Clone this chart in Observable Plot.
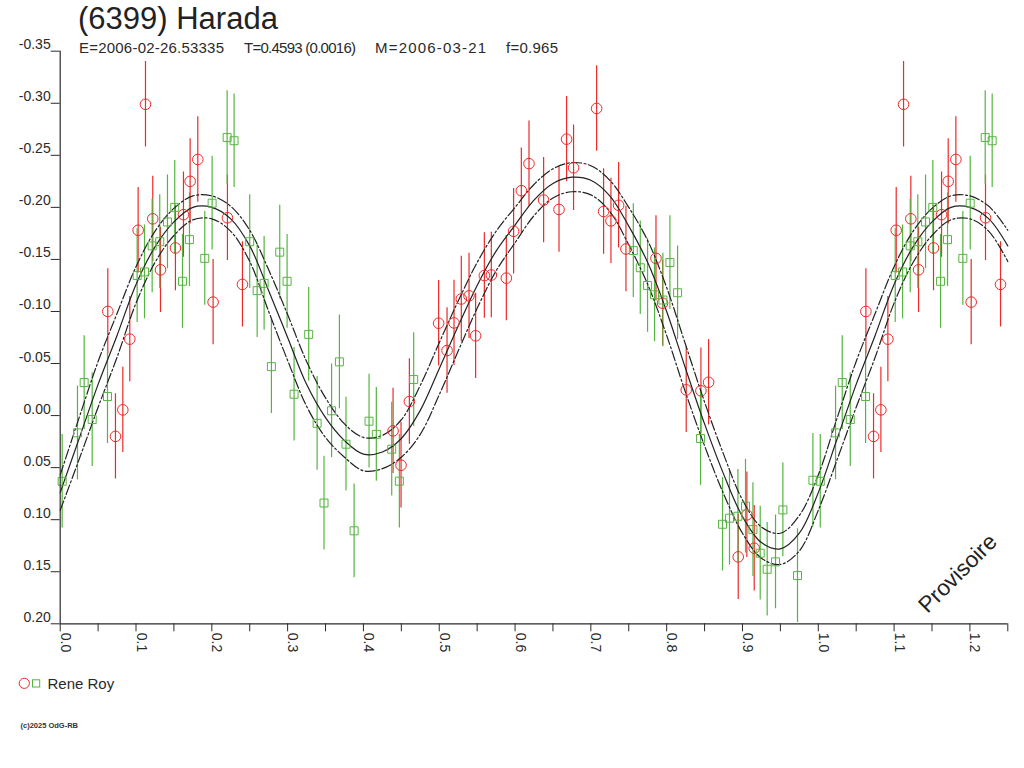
<!DOCTYPE html>
<html><head><meta charset="utf-8">
<script src="https://cdn.jsdelivr.net/npm/d3@7"></script>
<script src="https://cdn.jsdelivr.net/npm/@observablehq/plot@0.6"></script>
<style>
body{margin:0;background:#fff;}
#wrap{position:relative;width:1024px;height:768px;overflow:hidden;background:#fff}
#wrap svg{position:absolute;left:0;top:0}
</style></head><body><div id="wrap"></div>
<script>
// ---------- texts ----------
const titleText = "(6399) Harada";
const subtitleParts = ["E=2006-02-26.53335", "T=0.4593 (0.0016)", "M=2006-03-21", "f=0.965"];
const legendLabel = "Rene Roy";
const copyrightText = "(c)2025 OdG-RB";
const watermark = "Provisoire";

// ---------- axes ----------
const xDomain = [0, 1.25];
const yDomain = [0.20, -0.35];
const xTicks = [0,0.05,0.1,0.15,0.2,0.25,0.3,0.35,0.4,0.45,0.5,0.55,0.6,0.65,0.7,0.75,0.8,0.85,0.9,0.95,1.0,1.05,1.1,1.15,1.2,1.25];
const xLabels = [0,0.1,0.2,0.3,0.4,0.5,0.6,0.7,0.8,0.9,1.0,1.1,1.2];
const yTicks = [-0.35,-0.30,-0.25,-0.20,-0.15,-0.10,-0.05,0.00,0.05,0.10,0.15,0.20];

// ---------- data (phase, relative magnitude) ----------
const redPhase = [0.0628,0.0729,0.0826,0.0918,0.1028,0.1125,0.1221,0.1323,0.1520,0.1626,0.1714,0.1815,0.2017,0.2206,0.2404,
  0.4391,0.4496,0.4606,0.4992,0.5103,0.5195,0.5291,0.5393,0.5480,0.5595,0.5687,0.5885,0.5981,0.6083,0.6184,0.6377,0.6580,
  0.6680,0.6772,0.7076,0.7168,0.7265,0.7366,0.7463,0.7859,0.7946,0.8258,0.8452,0.8553,0.8944,0.9058,0.9155];
const redMag = [-0.100,0.020,-0.0055,-0.0734,-0.178,-0.299,-0.189,-0.140,-0.161,-0.193,-0.225,-0.246,-0.109,-0.190,-0.126,
  0.0147,0.0477,-0.0135,-0.0887,-0.0625,-0.089,-0.112,-0.115,-0.0766,-0.1345,-0.135,-0.132,-0.177,-0.216,-0.242,-0.207,-0.198,
  -0.2655,-0.238,-0.295,-0.196,-0.187,-0.202,-0.160,-0.151,-0.108,-0.0247,-0.0238,-0.032,0.1357,0.0953,0.1274];
const redErr = 0.041;

const greenPhase = [0.0026,0.0228,0.0316,0.0422,0.0624,0.1015,0.1112,0.1213,0.1313,0.1415,0.1511,0.1613,0.1705,0.1907,0.2004,
  0.2202,0.2294,0.2500,0.2598,0.2690,0.2786,0.2896,0.2993,0.3085,0.3278,0.3389,0.3480,0.3580,0.3683,0.3770,0.3877,0.4074,
  0.4170,0.4373,0.4474,0.4663,0.7560,0.7652,0.7748,0.7840,0.7950,0.8043,0.8144,0.8447,0.8737,0.8829,0.8940,0.9040,0.9138,
  0.9234,0.9326,0.9436,0.9533,0.9726,0.9929];
const greenMag = [0.0631,0.0166,-0.0317,0.0038,-0.0183,-0.1345,-0.138,-0.163,-0.167,-0.186,-0.200,-0.129,-0.169,-0.151,-0.204,
  -0.267,-0.264,-0.167,-0.120,-0.127,-0.047,-0.157,-0.129,-0.0205,-0.078,0.0074,0.084,-0.0046,-0.0516,0.0275,0.1107,0.0054,
  0.018,0.0323,0.063,-0.0346,-0.1585,-0.142,-0.125,-0.116,-0.111,-0.147,-0.118,0.022,0.1044,0.0986,0.0967,0.087,0.1095,
  0.1322,0.1476,0.1405,0.0906,0.1537,0.0621];
const greenErr = 0.045;

// ---------- fitted light curve and its envelope ----------
const fitPhase = [0,0.025,0.05,0.075,0.1,0.125,0.15,0.175,0.2,0.225,0.25,0.275,0.3,0.325,0.35,0.375,0.4,0.425,0.45,0.475,
  0.5,0.525,0.55,0.575,0.6,0.625,0.65,0.675,0.7,0.725,0.75,0.775,0.8,0.825,0.85,0.875,0.9,0.925,0.95,0.975,1.0];
const fitMid = [0.074,0.022,-0.030,-0.077,-0.126,-0.162,-0.186,-0.200,-0.200,-0.189,-0.163,-0.120,-0.075,-0.030,0.002,0.024,
  0.037,0.035,0.022,-0.005,-0.045,-0.086,-0.125,-0.158,-0.183,-0.207,-0.223,-0.229,-0.226,-0.211,-0.182,-0.147,-0.100,-0.045,
  0.008,0.056,0.097,0.122,0.128,0.113,0.074];
const fitUpper = [0.057,0.002,-0.052,-0.098,-0.143,-0.177,-0.199,-0.211,-0.211,-0.201,-0.178,-0.140,-0.097,-0.052,-0.017,0.008,
  0.021,0.019,0.004,-0.029,-0.070,-0.110,-0.147,-0.177,-0.200,-0.222,-0.237,-0.243,-0.240,-0.226,-0.200,-0.168,-0.123,-0.068,
  -0.013,0.037,0.081,0.107,0.113,0.096,0.057];
const fitLower = [0.091,0.042,-0.008,-0.056,-0.108,-0.147,-0.173,-0.188,-0.189,-0.177,-0.148,-0.100,-0.053,-0.009,0.021,0.040,
  0.053,0.051,0.040,0.018,-0.020,-0.062,-0.103,-0.139,-0.166,-0.192,-0.209,-0.215,-0.212,-0.196,-0.164,-0.126,-0.077,-0.022,
  0.029,0.075,0.113,0.137,0.143,0.130,0.091];

// ---------- colours ----------
const RED = "#ec2a2a", GREEN = "#56b540", INK = "#222";

// build rows; phases 0..0.25 are repeated after 1.0 (phase + 1 cycle)
function rows(ph, mg) {
  const base = ph.map((p, i) => ({phase: p, mag: mg[i]}));
  const rep = base.filter(d => d.phase < 0.25).map(d => ({phase: d.phase + 1, mag: d.mag}));
  return base.concat(rep);
}
const red = rows(redPhase, redMag);
const green = rows(greenPhase, greenMag);
const fitBase = fitPhase.map((p, i) => ({phase: p, mid: fitMid[i], upper: fitUpper[i], lower: fitLower[i]}));
const fit = fitBase.concat(fitBase.filter(d => d.phase > 0 && d.phase <= 0.25).map(d => ({...d, phase: d.phase + 1})));

const W = 1024, H = 768, mL = 59.7, mT = 50.7, mR = 16.7, mB = 144.7;
const FONT = "'Liberation Sans', Arial, Helvetica, sans-serif";

const chart = Plot.plot({
  width: W, height: H,
  marginLeft: mL, marginTop: mT, marginRight: mR, marginBottom: mB,
  x: {domain: xDomain, label: null},
  y: {domain: yDomain, label: null},
  style: {fontFamily: FONT, fontSize: "14px", color: "#2a2a2a", background: "transparent", overflow: "visible"},
  marks: [
    Plot.ruleX(red, {x: "phase", y1: d => d.mag - redErr, y2: d => d.mag + redErr, stroke: RED, strokeWidth: 1.2, clip: true}),
    Plot.ruleX(green, {x: "phase", y1: d => d.mag - greenErr, y2: d => d.mag + greenErr, stroke: GREEN, strokeWidth: 1.2, clip: true}),
    Plot.line(fit, {x: "phase", y: "upper", curve: "catmull-rom", stroke: INK, strokeWidth: 1.2, strokeDasharray: "10,2.5,2,2.5"}),
    Plot.line(fit, {x: "phase", y: "mid", curve: "catmull-rom", stroke: INK, strokeWidth: 1.2}),
    Plot.line(fit, {x: "phase", y: "lower", curve: "catmull-rom", stroke: INK, strokeWidth: 1.2, strokeDasharray: "10,2.5,2,2.5"}),
    Plot.dot(red, {x: "phase", y: "mag", r: 5.3, stroke: RED, fill: "none", strokeWidth: 1}),
    Plot.dot(green, {x: "phase", y: "mag", symbol: "square", r: 4.5, stroke: GREEN, fill: "none", strokeWidth: 1}),
    Plot.ruleX([xDomain[0]], {stroke: "#2a2a2a", strokeWidth: 1.2}),
    Plot.ruleY([yDomain[0]], {stroke: "#2a2a2a", strokeWidth: 1.2}),
    Plot.axisY({ticks: yTicks, tickSize: 9, fill: "none", label: null, stroke: "#2a2a2a"}),
    Plot.text(yTicks, {y: d => d, frameAnchor: "left", text: d => d.toFixed(2), textAnchor: "end", lineAnchor: "bottom",
      dx: -9.5, dy: -2, fontSize: 14, fill: "#2a2a2a"}),
    Plot.axisX({ticks: xTicks, tickSize: 8, fill: "none", label: null, stroke: "#2a2a2a"}),
    Plot.text(xLabels, {x: d => d, frameAnchor: "bottom", text: d => d.toFixed(1), rotate: 90, textAnchor: "start",
      lineAnchor: "bottom", dx: 0.5, dy: 9, fontSize: 14, fill: "#2a2a2a"})
  ]
});
const wrap = document.getElementById("wrap");
wrap.appendChild(chart);

// ---------- overlay: title, subtitle, legend, credit, watermark ----------
const ov = d3.select(wrap).append("svg").attr("width", W).attr("height", H)
  .style("pointer-events", "none").attr("font-family", FONT);
ov.append("text").attr("x", 78).attr("y", 29).attr("font-size", 31).attr("fill", INK).text(titleText);
const subX = [79, 244, 375, 506];
const subLen = [145, 112, 111, 52];
subtitleParts.forEach((s, i) => ov.append("text").attr("x", subX[i]).attr("y", 53.3).attr("font-size", 15)
  .attr("textLength", subLen[i]).attr("lengthAdjust", "spacing").attr("fill", "#2a2a2a").text(s));
ov.append("circle").attr("cx", 24.3).attr("cy", 683.3).attr("r", 5.1).attr("fill", "none").attr("stroke", RED);
ov.append("rect").attr("x", 32.5).attr("y", 679.8).attr("width", 7.2).attr("height", 7.2).attr("fill", "none").attr("stroke", GREEN);
ov.append("text").attr("x", 47.5).attr("y", 689.3).attr("font-size", 15).attr("fill", "#2a2a2a").text(legendLabel);
ov.append("text").attr("x", 20.5).attr("y", 728.3).attr("font-size", 7.5).attr("font-weight", "bold").attr("fill", "#333").text(copyrightText);
ov.append("text").attr("transform", "translate(927.5,614) rotate(-45)").attr("font-size", 22.5).attr("fill", INK).text(watermark);
</script>
</body></html>
